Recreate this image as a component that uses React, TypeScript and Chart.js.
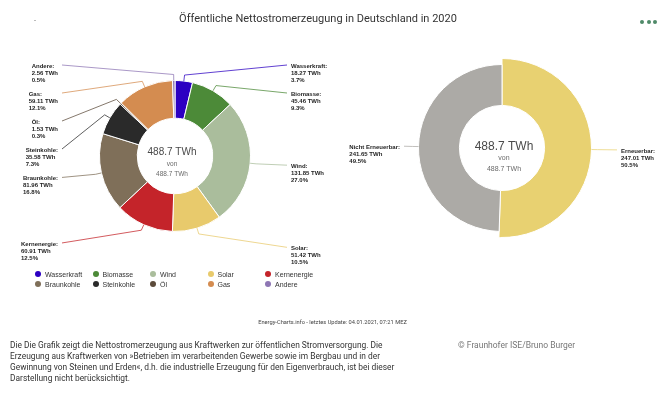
import React, { useEffect, useRef } from "react";
import { Chart, registerables } from "chart.js";

Chart.register(...registerables);

const titleText = "Öffentliche Nettostromerzeugung in Deutschland in 2020";
const sourceLabels = ["Wasserkraft", "Biomasse", "Wind", "Solar", "Kernenergie", "Braunkohle", "Steinkohle", "Öl", "Gas", "Andere"];
const sourceValues = [18.27, 45.46, 131.85, 51.42, 60.91, 81.96, 35.58, 1.53, 59.11, 2.56];
const sourceColors = ["#2c00c2", "#4c8a38", "#aabd9c", "#e8ca6c", "#c4242a", "#7f6f59", "#2a2a2a", "#5c4b3b", "#d48c50", "#8e76b4"];
const renewLabels = ["Erneuerbar", "Nicht Erneuerbar"];
const renewValues = [247.01, 241.65];
const renewColors = ["#e8d171", "#acaaa6"];
const totalTWh = 488.7;
const updateText = "Energy-Charts.info - letztes Update: 04.01.2021, 07:21 MEZ";
const noteLines = [
  "Die Die Grafik zeigt die Nettostromerzeugung aus Kraftwerken zur öffentlichen Stromversorgung. Die",
  "Erzeugung aus Kraftwerken von »Betrieben im verarbeitenden Gewerbe sowie im Bergbau und in der",
  "Gewinnung von Steinen und Erden«, d.h. die industrielle Erzeugung für den Eigenverbrauch, ist bei dieser",
  "Darstellung nicht berücksichtigt.",
];
const copyrightText = "© Fraunhofer ISE/Bruno Burger";

const W = 661;
const H = 396;
const NARROW = 'Roboto, "Liberation Sans", sans-serif';

function hexA(hex: string, a: number) {
  const n = parseInt(hex.slice(1), 16);
  return `rgba(${(n >> 16) & 255},${(n >> 8) & 255},${n & 255},${a})`;
}

type LabelOpts = {
  dist: number;
  leftCol: number;
  rightCol: number;
  minY: number;
  maxY: number;
  spacing: number;
  gap: number;
};

function makeLabelPlugin(id: string, labels: string[], values: number[], colors: string[], opts: LabelOpts) {
  return {
    id,
    afterDatasetsDraw(chart: any) {
      const ctx: CanvasRenderingContext2D = chart.ctx;
      const meta = chart.getDatasetMeta(0);
      const sum = values.reduce((a, b) => a + b, 0);
      const items = meta.data.map((arc: any, i: number) => {
        const mid = (arc.startAngle + arc.endAngle) / 2;
        const dx = Math.cos(mid);
        const dy = Math.sin(mid);
        return {
          i,
          cx: arc.x,
          cy: arc.y,
          r: arc.outerRadius,
          dx,
          dy,
          side: dx >= 0 ? 1 : -1,
          y: arc.y + (arc.outerRadius + opts.dist) * dy,
        };
      });
      [1, -1].forEach((side) => {
        const list = items.filter((it: any) => it.side === side).sort((a: any, b: any) => a.y - b.y);
        let prev = -Infinity;
        list.forEach((it: any) => {
          it.y = Math.max(it.y, opts.minY, prev + opts.spacing);
          prev = it.y;
        });
        let next = Infinity;
        for (let k = list.length - 1; k >= 0; k--) {
          const it = list[k];
          it.y = Math.min(it.y, opts.maxY, next - opts.spacing);
          next = it.y;
        }
      });
      ctx.save();
      items.forEach((it: any) => {
        const col = it.side > 0 ? opts.rightCol : opts.leftCol;
        const lx = it.cx + it.side * col;
        ctx.strokeStyle = hexA(colors[it.i], 0.75);
        ctx.lineWidth = 1;
        ctx.beginPath();
        ctx.moveTo(lx, it.y);
        ctx.lineTo(it.cx + (it.r + 6) * it.dx, it.cy + (it.r + 6) * it.dy);
        ctx.lineTo(it.cx + it.r * it.dx, it.cy + it.r * it.dy);
        ctx.stroke();
        const lines = [
          labels[it.i] + ":",
          values[it.i].toFixed(2) + " TWh",
          ((values[it.i] / sum) * 100).toFixed(1) + "%",
        ];
        ctx.font = 'bold 6px "Liberation Sans", Arial, sans-serif';
        ctx.fillStyle = "#1e1e1e";
        ctx.textBaseline = "middle";
        ctx.textAlign = "left";
        const maxW = Math.max(...lines.map((l) => ctx.measureText(l).width));
        const x0 = it.side > 0 ? lx + opts.gap : lx - opts.gap - maxW;
        lines.forEach((l, k) => ctx.fillText(l, x0, it.y + 1 + k * 7));
      });
      ctx.restore();
    },
  };
}

type CenterOpts = { dx: number; bigY: number; vonY: number; smallY: number; bigSize: number; smallSize: number };

function makeCenterPlugin(id: string, o: CenterOpts) {
  return {
    id,
    afterDatasetsDraw(chart: any) {
      const ctx: CanvasRenderingContext2D = chart.ctx;
      const arc = chart.getDatasetMeta(0).data[0];
      const cx = arc.x + o.dx;
      const cy = arc.y;
      const t = totalTWh.toFixed(1) + " TWh";
      ctx.save();
      ctx.textAlign = "center";
      ctx.textBaseline = "middle";
      ctx.fillStyle = "#4a4a4a";
      ctx.font = `${o.bigSize}px "Liberation Sans", Arial, sans-serif`;
      ctx.fillText(t, cx, cy + o.bigY);
      ctx.fillStyle = "#6a6a6a";
      ctx.font = `${o.smallSize}px "Liberation Sans", Arial, sans-serif`;
      ctx.fillText("von", cx, cy + o.vonY);
      ctx.fillText(t, cx, cy + o.smallY);
      ctx.restore();
    },
  };
}

const enlargeFirst = {
  id: "enlargeFirst",
  afterUpdate(chart: any) {
    const arc = chart.getDatasetMeta(0).data[0];
    if (arc) arc.outerRadius = arc.outerRadius + 6;
  },
};

export default function App() {
  const leftRef = useRef<HTMLCanvasElement>(null);
  const rightRef = useRef<HTMLCanvasElement>(null);

  useEffect(() => {
    const c1 = new Chart(leftRef.current!, {
      type: "doughnut",
      data: {
        labels: sourceLabels,
        datasets: [{ data: sourceValues, backgroundColor: sourceColors, borderColor: "#ffffff", borderWidth: 1 }],
      },
      options: {
        responsive: false,
        animation: false,
        events: [],
        cutout: "50%",
        layout: { padding: { left: 99, right: 410, top: 80, bottom: 164 } },
        plugins: { legend: { display: false }, tooltip: { enabled: false } },
      } as any,
      plugins: [
        makeLabelPlugin("lbl1", sourceLabels, sourceValues, sourceColors, {
          dist: 20, leftCol: 113, rightCol: 112, minY: 65, maxY: 250, spacing: 28, gap: 4,
        }),
        makeCenterPlugin("ctr1", { dx: -3, bigY: -4, vonY: 8, smallY: 18, bigSize: 10, smallSize: 6.5 }),
      ],
    });
    const c2 = new Chart(rightRef.current!, {
      type: "doughnut",
      data: {
        labels: renewLabels,
        datasets: [{ data: renewValues, backgroundColor: renewColors, borderColor: "#ffffff", borderWidth: 1 }],
      },
      options: {
        responsive: false,
        animation: false,
        events: [],
        cutout: "51%",
        layout: { padding: { left: 418, right: 75, top: 64, bottom: 164 } },
        plugins: { legend: { display: false }, tooltip: { enabled: false } },
      } as any,
      plugins: [
        enlargeFirst,
        makeLabelPlugin("lbl2", renewLabels, renewValues, renewColors, {
          dist: 20, leftCol: 98, rightCol: 115, minY: 65, maxY: 250, spacing: 28, gap: 4,
        }),
        makeCenterPlugin("ctr2", { dx: 2, bigY: -1, vonY: 10, smallY: 21, bigSize: 12, smallSize: 7 }),
      ],
    });
    return () => {
      c1.destroy();
      c2.destroy();
    };
  }, []);

  const legendCols = 5;
  return (
    <div style={{ position: "absolute", left: 0, top: 0, width: W, height: H, background: "#fff", overflow: "hidden" }}>
      <canvas ref={leftRef} width={W} height={H} style={{ position: "absolute", left: 0, top: 0 }} />
      <canvas ref={rightRef} width={W} height={H} style={{ position: "absolute", left: 0, top: 0 }} />
      <div
        style={{
          position: "absolute", left: 0, width: 636, top: 12, textAlign: "center",
          font: `11px ${NARROW}`, color: "#333", whiteSpace: "nowrap",
        }}
      >
        {titleText}
      </div>
      <div style={{ position: "absolute", left: 34, top: 20, width: 2, height: 1, background: "#bbb" }} />
      {[0, 1, 2].map((k) => (
        <div
          key={k}
          style={{
            position: "absolute", left: 640 + k * 6.5, top: 19.5, width: 4, height: 4,
            borderRadius: "50%", background: "#4f8a68",
          }}
        />
      ))}
      {sourceLabels.map((name, i) => {
        const col = i % legendCols;
        const row = Math.floor(i / legendCols);
        const x = 38 + col * 57.5;
        const y = 274 + row * 10;
        return (
          <div key={name} style={{ position: "absolute", left: x - 3, top: y - 5, height: 10, display: "flex", alignItems: "center", whiteSpace: "nowrap" }}>
            <span style={{ width: 6, height: 6, borderRadius: "50%", background: sourceColors[i], display: "inline-block" }} />
            <span style={{ marginLeft: 4, font: '7px "Liberation Sans", Arial, sans-serif', color: "#333" }}>{name}</span>
          </div>
        );
      })}
      <div
        style={{
          position: "absolute", left: 0, width: 665, top: 319, textAlign: "center",
          font: `5.7px ${NARROW}`, color: "#444", whiteSpace: "nowrap",
        }}
      >
        {updateText}
      </div>
      <div style={{ position: "absolute", left: 10, top: 340, font: `8.4px ${NARROW}`, lineHeight: "11px", color: "#333", whiteSpace: "nowrap" }}>
        {noteLines.map((l) => (
          <div key={l}>{l}</div>
        ))}
      </div>
      <div style={{ position: "absolute", left: 458, top: 340, font: `8.5px ${NARROW}`, lineHeight: "11px", color: "#777", whiteSpace: "nowrap" }}>
        {copyrightText}
      </div>
    </div>
  );
}
